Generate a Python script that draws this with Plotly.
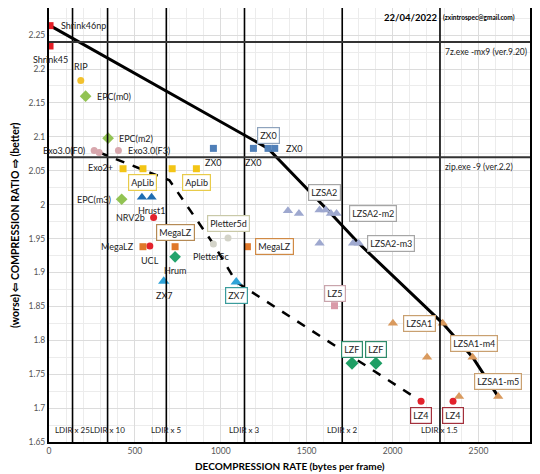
import plotly.graph_objs as go

# ---- data ----
shrink_x = [6, 6]
shrink_y = [2.264, 2.234]
rip_x = [185]
rip_y = [2.183]
epc_x = [213, 344, 423]
epc_y = [2.160, 2.098, 2.008]
exo3_x = [263, 292, 404]
exo3_y = [2.080, 2.077, 2.080]
aplib_x = [431, 547, 717, 858]          # first one is Exo2+
aplib_y = [2.053, 2.053, 2.053, 2.053]
zx0_x = [957, 1190, 1275, 1314]
zx0_y = [2.083, 2.083, 2.083, 2.083]
hrust_x = [541, 597]
hrust_y = [2.011, 2.011]
nrv_x = [609, 587]                      # NRV2b, UCL
nrv_y = [1.981, 1.939]
megalz_x = [547, 734, 1155]
megalz_y = [1.938, 1.938, 1.938]
hrum_x = [734]
hrum_y = [1.923]
pletter_x = [957, 1042]                 # 5c, 5d
pletter_y = [1.942, 1.951]
zx7_x = [668, 1090]
zx7_y = [1.887, 1.886]
lzsa2_x = [1391, 1455, 1575, 1610, 1641, 1674, 1575, 1770, 1803]
lzsa2_y = [1.991, 1.987, 1.992, 1.992, 1.987, 1.987, 1.943, 1.943, 1.943]
lz5_x = [1662]
lz5_y = [1.851]
lzsa1_x = [2002, 2292, 2201, 2466, 2387, 2615]
lzsa1_y = [1.825, 1.825, 1.775, 1.775, 1.717, 1.717]
lzf_x = [1764, 1903]
lzf_y = [1.766, 1.766]
lz4_x = [2166, 2352]
lz4_y = [1.710, 1.710]

# pareto fronts
front_x = [6, 1275, 1641, 1803, 2292, 2466, 2615]
front_y = [2.264, 2.083, 1.987, 1.943, 1.825, 1.775, 1.717]
front2_x = [292, 701, 957, 1090, 2166]
front2_y = [2.077, 2.036, 1.942, 1.886, 1.710]

# reference lines
ldir_x = [137, 341, 683, 1138, 1707, 2276]
ldir_labels = ["LDIR x 25", "LDIR x 10", "LDIR x 5", "LDIR x 3", "LDIR x 2", "LDIR x 1.5"]
ref_y = [2.24, 2.07]
ref_labels = ["7z.exe -mx9 (ver.9.20)", "zip.exe -9 (ver.2.2)"]

yticks = [1.65, 1.7, 1.75, 1.8, 1.85, 1.9, 1.95, 2.0, 2.05, 2.1, 2.15, 2.2, 2.25]
xticks = [0, 500, 1000, 1500, 2000, 2500]

FONT = "Lato"
LS = 9   # label font size

fig = go.Figure()

# lines
fig.add_trace(go.Scatter(x=front_x, y=front_y, mode="lines",
                         line=dict(color="black", width=3)))
fig.add_trace(go.Scatter(x=front2_x, y=front2_y, mode="lines",
                         line=dict(color="black", width=2.5, dash="dash")))

def pts(x, y, color, symbol, size):
    fig.add_trace(go.Scatter(x=x, y=y, mode="markers",
                             marker=dict(color=color, symbol=symbol, size=size,
                                         line=dict(width=0))))

pts(shrink_x, shrink_y, "#E41E26", "square", 7)
pts(rip_x, rip_y, "#F2C12E", "circle", 7)
pts(epc_x, epc_y, "#92C353", "diamond", 9)
pts(exo3_x, exo3_y, "#D8A7AD", "circle", 7)
pts(aplib_x, aplib_y, "#F3C516", "square", 7)
pts(zx0_x, zx0_y, "#4F7FB8", "square", 7)
pts(hrust_x, hrust_y, "#1F6DB2", "triangle-up", 9)
pts(nrv_x, nrv_y, "#E3222C", "circle", 7)
pts(megalz_x, megalz_y, "#E0782A", "square", 7)
pts(hrum_x, hrum_y, "#23A36C", "diamond", 9)
pts(pletter_x, pletter_y, "#D3D3C8", "circle", 7)
pts(zx7_x, zx7_y, "#2FA3D8", "triangle-up", 10)
pts(lzsa2_x, lzsa2_y, "#9EA8CF", "triangle-up", 9)
pts(lz5_x, lz5_y, "#D99AA8", "square", 7)
pts(lzsa1_x, lzsa1_y, "#D99A5E", "triangle-up", 9)
pts(lzf_x, lzf_y, "#1E9E64", "diamond", 10)
pts(lz4_x, lz4_y, "#E3222C", "circle", 7)

anns = []

def label(text, x, y, dx=0, dy=0, anchor="center", border=None):
    a = dict(text=text, x=x, y=y, xshift=dx, yshift=dy, xanchor=anchor,
             yanchor="middle", showarrow=False,
             font=dict(family=FONT, size=LS, color="#222"))
    if border:
        a.update(bordercolor=border, borderwidth=1.2, borderpad=2, bgcolor="white")
    anns.append(a)

label("Shrink46np", shrink_x[0], shrink_y[0], 9, 0, "left")
label("Shrink45", shrink_x[1], shrink_y[1], 0, -14)
label("RIP", rip_x[0], rip_y[0], 0, 14)
label("EPC(m0)", epc_x[0], epc_y[0], 9, 0, "left")
label("EPC(m2)", epc_x[1], epc_y[1], 9, 0, "left")
label("EPC(m3)", epc_x[2], epc_y[2], -9, 0, "right")
label("Exo3.0(F0)", exo3_x[0], exo3_y[0], -7, 0, "right")
label("Exo3.0(F3)", exo3_x[2], exo3_y[2], 8, 0, "left")
label("Exo2+", aplib_x[0], aplib_y[0], -8, 1, "right")
label("ApLib", aplib_x[1], aplib_y[1], 0, -14, border="#E8CB4A")
label("ApLib", aplib_x[3], aplib_y[3], 0, -14, border="#E8CB4A")
label("ZX0", zx0_x[0], zx0_y[0], 0, -14)
label("ZX0", zx0_x[1], zx0_y[1], 0, -14)
label("ZX0", zx0_x[2], zx0_y[2], 0, 13, border="#8EA3BD")
label("ZX0", zx0_x[3], zx0_y[3], 9, 0, "left")
label("Hrust1", hrust_x[1], hrust_y[1], 0, -13)
label("NRV2b", nrv_x[0], nrv_y[0], -7, 0, "right")
label("UCL", nrv_x[1], nrv_y[1], 0, -14)
label("MegaLZ", megalz_x[0], megalz_y[0], -7, 0, "right")
label("MegaLZ", megalz_x[1], megalz_y[1], 0, 14, border="#B58A55")
label("MegaLZ", megalz_x[2], megalz_y[2], 8, 0, "left", border="#D08A45")
label("Hrum", hrum_x[0], hrum_y[0], 0, -14)
label("Pletter5c", pletter_x[0], pletter_y[0], -2, -13)
label("Pletter5d", pletter_x[1], pletter_y[1], 0, 14, border="#C9C9A8")
label("ZX7", zx7_x[0], zx7_y[0], 0, -14)
label("ZX7", zx7_x[1], zx7_y[1], 0, -14, border="#3A9C9C")
label("LZSA2", lzsa2_x[3], lzsa2_y[3], -1, 18, border="#A6A6A6")
label("LZSA2-m2", lzsa2_x[5], lzsa2_y[5], 12, 0, "left", border="#A6A6A6")
label("LZSA2-m3", lzsa2_x[8], lzsa2_y[8], 8, 0, "left", border="#A6A6A6")
label("LZ5", lz5_x[0], lz5_y[0], 0, 12, border="#C9A4AC")
label("LZF", lzf_x[0], lzf_y[0], 0, 14, border="#2E8B6B")
label("LZF", lzf_x[1], lzf_y[1], 0, 14, border="#2E8B6B")
label("LZSA1", lzsa1_x[1], lzsa1_y[1], -7, 0, "right", border="#C9A070")
label("LZSA1-m4", lzsa1_x[3], lzsa1_y[3], 1, 14, border="#C9A070")
label("LZSA1-m5", lzsa1_x[5], lzsa1_y[5], 0, 15, border="#C9A070")
label("LZ4", lz4_x[0], lz4_y[0], 0, -14, border="#A3303C")
label("LZ4", lz4_x[1], lz4_y[1], 0, -14, border="#A3303C")

# LDIR lines
shapes = []
for lx, lt in zip(ldir_x, ldir_labels):
    shapes.append(dict(type="line", x0=lx, x1=lx, y0=0, y1=1, yref="paper",
                       line=dict(color="black", width=1.6)))
    anns.append(dict(text=lt, x=lx, y=1.65, yshift=12, showarrow=False,
                     xanchor="center", yanchor="middle",
                     font=dict(family=FONT, size=8, color="#222")))

for ry, rt in zip(ref_y, ref_labels):
    shapes.append(dict(type="line", x0=0, x1=1, xref="paper", y0=ry, y1=ry,
                       line=dict(color="#333", width=2)))
    anns.append(dict(text=rt, x=ldir_x[5], y=ry, xshift=3, yshift=-10,
                     showarrow=False, xanchor="left", yanchor="middle",
                     font=dict(family=FONT, size=8.5, color="#222")))

anns.append(dict(text="<b>22/04/2022</b>", x=ldir_x[5], y=1, yref="paper",
                 xshift=-1, yshift=-9, showarrow=False, xanchor="right",
                 yanchor="middle", font=dict(family=FONT, size=9.5, color="black")))
anns.append(dict(text="<b>(zxintrospec@gmail.com)</b>", x=ldir_x[5], y=1,
                 yref="paper", xshift=1, yshift=-9, showarrow=False,
                 xanchor="left", yanchor="middle",
                 font=dict(family=FONT, size=6.5, color="black")))

# axis titles as annotations so the plot area keeps its place
anns.append(dict(text="<b>DECOMPRESSION RATE (bytes per frame)</b>",
                 x=0.5, y=0, xref="paper", yref="paper", yshift=-24,
                 showarrow=False, xanchor="center", yanchor="middle",
                 font=dict(family=FONT, size=10, color="black")))
anns.append(dict(text="<b>(worse) \u21e6 COMPRESSION RATIO \u21e8 (better)</b>",
                 x=0, y=0.5, xref="paper", yref="paper", xshift=-34,
                 textangle=-90, showarrow=False, xanchor="center", yanchor="middle",
                 font=dict(family=FONT, size=10.5, color="black")))

# the page body adds an 8px margin, so the figure is a bit smaller
fig.update_layout(
    width=532, height=466,
    margin=dict(l=41, r=10, t=0, b=32),
    plot_bgcolor="white", paper_bgcolor="white",
    showlegend=False,
    annotations=anns, shapes=shapes,
    font=dict(family=FONT, size=8.5, color="#555"),
)

fig.update_xaxes(
    range=[0, 2800], tickvals=xticks, ticks="", automargin=False,
    showgrid=True, gridcolor="#dcdcdc", gridwidth=1,
    minor=dict(dtick=100, showgrid=True, gridcolor="#ececec"),
    showline=True, linecolor="black", linewidth=2, mirror=True,
    zeroline=False,
)
fig.update_yaxes(
    range=[1.65, 2.29], tickvals=yticks, ticktext=[f"{v:g}" for v in yticks],
    ticks="", automargin=False,
    showgrid=True, gridcolor="#dcdcdc", gridwidth=1,
    minor=dict(dtick=0.025, tick0=1.65, showgrid=True, gridcolor="#ececec"),
    showline=True, linecolor="black", linewidth=2, mirror=True,
    zeroline=False,
)

fig.write_html("out.html")
